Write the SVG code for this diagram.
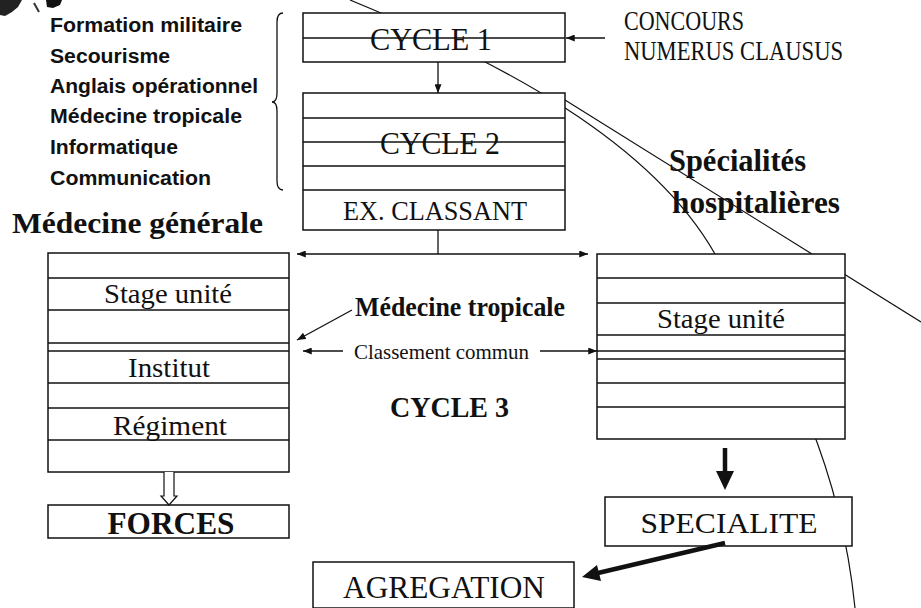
<svg xmlns="http://www.w3.org/2000/svg" width="921" height="608" viewBox="0 0 921 608">
<defs>
<style>
.box{fill:#fff;stroke:#111;stroke-width:1.5}
.ln{stroke:#111;stroke-width:1.3;fill:none}
.deco{stroke:#111;stroke-width:1.2;fill:none}
.serif{font-family:"Liberation Serif","Times New Roman",serif;fill:#111}
.sans{font-family:"Liberation Sans",Arial,sans-serif;font-weight:bold;fill:#111;font-size:20px}
.b{font-weight:bold}
.con{stroke:#111;stroke-width:1.3;fill:none}
.thick{stroke:#111;stroke-width:4.5;fill:none}
</style>
<marker id="ah" viewBox="0 0 10 8" refX="10" refY="4" markerWidth="9" markerHeight="7" markerUnits="userSpaceOnUse" orient="auto-start-reverse">
<path d="M0,0 L10,4 L0,8 Z" fill="#111"/>
</marker>
</defs>
<rect width="921" height="608" fill="#fff"/>

<!-- scan artifact -->
<g id="artifact">
<path d="M0,0 H22 L18,7 L12,12 L5,16 L0,15 Z" fill="#222"/>
<path d="M46,0 H62 L60,5 L53,8 L47,7 Z" fill="#111"/>
<path d="M34,3 L39,12" stroke="#333" stroke-width="2"/>
</g>

<!-- overlay lines -->
<g id="overlay-lines">
<path class="deco" d="M350,0 C500,62 650,140 715,254 C792,358 842,478 855,608"/>
<path class="deco" d="M565,100 L921,322"/>
</g>

<g id="skills-list">
<text class="sans" x="50" y="32" textLength="192" lengthAdjust="spacingAndGlyphs">Formation militaire</text>
<text class="sans" x="50" y="63" textLength="120" lengthAdjust="spacingAndGlyphs">Secourisme</text>
<text class="sans" x="50" y="93" textLength="208" lengthAdjust="spacingAndGlyphs">Anglais opérationnel</text>
<text class="sans" x="50" y="123" textLength="192" lengthAdjust="spacingAndGlyphs">Médecine tropicale</text>
<text class="sans" x="50" y="154" textLength="128" lengthAdjust="spacingAndGlyphs">Informatique</text>
<text class="sans" x="50" y="185" textLength="161" lengthAdjust="spacingAndGlyphs">Communication</text>
<path class="ln" d="M283,13 Q277,13 277,22 L277,93 Q277,102 272,102 Q277,102 277,111 L277,181 Q277,190 283,190"/>
</g>

<g id="cycle1">
<rect class="box" x="303" y="13" width="262" height="49"/>
<text class="serif" x="431" y="50" font-size="32" text-anchor="middle" textLength="122" lengthAdjust="spacingAndGlyphs">CYCLE 1</text>
<line class="ln" x1="303" y1="38" x2="565" y2="38"/>
</g>

<g id="concours">
<text class="serif" x="624" y="30" font-size="28" textLength="120" lengthAdjust="spacingAndGlyphs">CONCOURS</text>
<text class="serif" x="624" y="60" font-size="28" textLength="219" lengthAdjust="spacingAndGlyphs">NUMERUS CLAUSUS</text>
</g>

<g id="cycle2">
<rect class="box" x="303" y="93" width="262" height="137"/>
<line class="ln" x1="303" y1="118" x2="565" y2="118"/>
<line class="ln" x1="303" y1="166" x2="565" y2="166"/>
<line class="ln" x1="303" y1="190" x2="565" y2="190"/>
<text class="serif" x="440" y="154" font-size="32" text-anchor="middle" textLength="120" lengthAdjust="spacingAndGlyphs">CYCLE 2</text>
<line class="ln" x1="303" y1="142" x2="565" y2="142"/>
<text class="serif" x="435" y="220" font-size="27" text-anchor="middle" textLength="184" lengthAdjust="spacingAndGlyphs">EX. CLASSANT</text>
</g>

<g id="medecine-generale">
<text class="serif b" x="12" y="233" font-size="30" textLength="251" lengthAdjust="spacingAndGlyphs">Médecine générale</text>
<rect class="box" x="48" y="253" width="241" height="219"/>
<line class="ln" x1="48" y1="278" x2="289" y2="278"/>
<line class="ln" x1="48" y1="310" x2="289" y2="310"/>
<line class="ln" x1="48" y1="343" x2="289" y2="343"/>
<line class="ln" x1="48" y1="351" x2="289" y2="351"/>
<line class="ln" x1="48" y1="383" x2="289" y2="383"/>
<line class="ln" x1="48" y1="408" x2="289" y2="408"/>
<line class="ln" x1="48" y1="440" x2="289" y2="440"/>
<text class="serif" x="168" y="303" font-size="28" text-anchor="middle" textLength="128" lengthAdjust="spacingAndGlyphs">Stage unité</text>
<text class="serif" x="169" y="377" font-size="28" text-anchor="middle" textLength="82" lengthAdjust="spacingAndGlyphs">Institut</text>
<text class="serif" x="170" y="435" font-size="28" text-anchor="middle" textLength="114" lengthAdjust="spacingAndGlyphs">Régiment</text>
</g>

<g id="forces">
<rect class="box" x="48" y="505" width="241" height="33"/>
<text class="serif b" x="171" y="534" font-size="31" text-anchor="middle" textLength="127" lengthAdjust="spacingAndGlyphs">FORCES</text>
</g>

<g id="specialites-hospitalieres">
<text class="serif b" x="669" y="171" font-size="31" textLength="137" lengthAdjust="spacingAndGlyphs">Spécialités</text>
<text class="serif b" x="672" y="213" font-size="31" textLength="168" lengthAdjust="spacingAndGlyphs">hospitalières</text>
<rect class="box" x="597" y="254" width="248" height="185"/>
<line class="ln" x1="597" y1="278" x2="845" y2="278"/>
<line class="ln" x1="597" y1="303" x2="845" y2="303"/>
<line class="ln" x1="597" y1="335" x2="845" y2="335"/>
<line class="ln" x1="597" y1="351" x2="845" y2="351"/>
<line class="ln" x1="597" y1="359" x2="845" y2="359"/>
<line class="ln" x1="597" y1="383" x2="845" y2="383"/>
<line class="ln" x1="597" y1="407" x2="845" y2="407"/>
<text class="serif" x="721" y="328" font-size="28" text-anchor="middle" textLength="128" lengthAdjust="spacingAndGlyphs">Stage unité</text>
</g>

<g id="cycle3-labels">
<text class="serif b" x="355" y="316" font-size="27" textLength="210" lengthAdjust="spacingAndGlyphs">Médecine tropicale</text>
<text class="serif" x="354" y="359" font-size="21" textLength="175" lengthAdjust="spacingAndGlyphs">Classement commun</text>
<text class="serif b" x="390" y="417" font-size="30" textLength="119" lengthAdjust="spacingAndGlyphs">CYCLE 3</text>
</g>

<g id="specialite">
<rect class="box" x="605" y="497" width="247" height="49"/>
<text class="serif" x="729" y="533" font-size="29" text-anchor="middle" textLength="177" lengthAdjust="spacingAndGlyphs">SPECIALITE</text>
</g>

<g id="agregation">
<rect class="box" x="313" y="562" width="261" height="46"/>
<text class="serif" x="444" y="598" font-size="31" text-anchor="middle" textLength="202" lengthAdjust="spacingAndGlyphs">AGREGATION</text>
</g>

<g id="connectors">
<line class="con" x1="605" y1="38" x2="566" y2="38" marker-end="url(#ah)"/>
<line class="con" x1="438" y1="62" x2="438" y2="93" marker-end="url(#ah)"/>
<line class="con" x1="438" y1="230" x2="438" y2="254"/>
<line class="con" x1="297" y1="254" x2="588" y2="254" marker-start="url(#ah)" marker-end="url(#ah)"/>
<line class="con" x1="352" y1="310" x2="297" y2="340" marker-end="url(#ah)"/>
<line class="con" x1="343" y1="351" x2="303" y2="351" marker-end="url(#ah)"/>
<line class="con" x1="540" y1="351" x2="597" y2="351" marker-end="url(#ah)"/>
<path d="M164,472 V496 H161 L169,505 L177,496 H174 V472" fill="#fff" stroke="#111" stroke-width="1.2"/>
<line class="thick" x1="725" y1="448" x2="725" y2="474"/>
<path d="M716,471 L734,471 L725,490 Z" fill="#111"/>
<line class="thick" x1="725" y1="543" x2="598" y2="573"/>
<path d="M582,577 L597,565 L601,581 Z" fill="#111"/>
</g>
</svg>
